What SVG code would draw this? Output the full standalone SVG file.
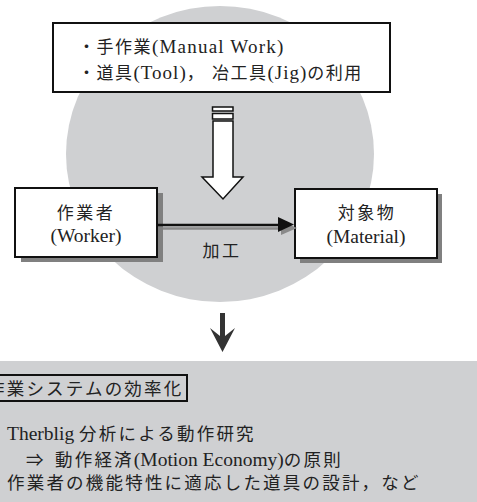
<svg xmlns="http://www.w3.org/2000/svg" width="477" height="502" viewBox="0 0 477 502">
<style>
.jp{font-family:"Noto Sans CJK JP","Noto Sans",sans-serif;fill:#222;}
.lt{font-family:"Liberation Serif","Times New Roman",Times,"DejaVu Serif","Noto Serif",serif;fill:#222;}
.box{fill:#fff;stroke:#111;stroke-width:2;}
.shadow{fill:#808080;}
.bg{fill:#cfd0d2;}
</style>
<rect width="477" height="502" fill="#fff"/>
<ellipse class="bg" cx="220" cy="154" rx="154" ry="148"/>
<rect class="bg" x="0" y="361" width="477" height="141"/>

<g id="tools">
<rect class="box" x="53" y="23" width="337" height="69"/>
<text y="53" font-size="17"><tspan class="jp" x="78" letter-spacing="1.5">・手作業</tspan><tspan class="lt" font-size="19" letter-spacing="1.2">(Manual Work)</tspan></text>
<text y="79" font-size="17"><tspan class="jp" x="78" letter-spacing="1.5">・道具</tspan><tspan class="lt" font-size="19" letter-spacing="1">(Tool)</tspan><tspan class="jp" letter-spacing="1.5">，</tspan><tspan class="jp" x="212" letter-spacing="1.5">冶工具</tspan><tspan class="lt" font-size="19" letter-spacing="1">(Jig)</tspan><tspan class="jp" letter-spacing="1.5">の利用</tspan></text>
</g>

<g id="worker">
<rect class="shadow" x="21" y="193" width="142" height="69"/>
<rect class="box" x="15" y="188" width="142" height="69"/>
<text class="jp" x="86" y="219" font-size="17" letter-spacing="2.5" text-anchor="middle">作業者</text>
<text class="lt" x="86" y="242" font-size="19.5" text-anchor="middle">(Worker)</text>
</g>

<g id="material">
<rect class="shadow" x="300" y="194" width="142" height="69"/>
<rect class="box" x="295" y="189" width="142" height="69"/>
<text class="jp" x="367" y="219" font-size="17" letter-spacing="2.5" text-anchor="middle">対象物</text>
<text class="lt" x="366" y="243" font-size="19.5" text-anchor="middle">(Material)</text>
</g>

<g id="connectors">
<g id="hollow-arrow" fill="#fff" stroke="#111" stroke-width="1.5">
<rect x="212.5" y="107" width="20.5" height="4"/>
<rect x="212.5" y="113.5" width="20.5" height="5.5"/>
<polygon points="213,121 233,121 233,177 243,177 223,199 202,177 213,177"/>
</g>
<g id="process-arrow">
<line x1="163" y1="228.5" x2="284" y2="228.5" stroke="#8a8a8a" stroke-width="2.5"/>
<polygon points="281,221 297,228 281,235" fill="#8a8a8a"/>
<line x1="157" y1="225" x2="281" y2="225" stroke="#111" stroke-width="2.5"/>
<polygon points="278,217 294,224.5 278,232" fill="#111"/>
</g>
<path id="down-arrow" d="M220,313 H225 V336 L235,328 L222.5,352 L210,328 L220,336 Z" fill="#333"/>
</g>
<text class="jp" x="222" y="257" font-size="17" letter-spacing="2.5" text-anchor="middle">加工</text>

<g id="efficiency">
<rect x="-20" y="375" width="207" height="26" fill="none" stroke="#111" stroke-width="2"/>
<text class="jp" x="-13" y="395" font-size="17.5" letter-spacing="2.2">作業システムの効率化</text>
<text y="440" font-size="17.5"><tspan class="lt" x="7" font-size="19.5">Therblig </tspan><tspan class="jp" letter-spacing="2.2">分析による動作研究</tspan></text>
<text y="466" font-size="17.5"><tspan class="jp" x="26">⇒</tspan><tspan class="jp" x="55" letter-spacing="2.2">動作経済</tspan><tspan class="lt" font-size="19.5">(Motion Economy)</tspan><tspan class="jp" letter-spacing="2.2">の原則</tspan></text>
<text class="jp" x="7" y="489" font-size="17.5" letter-spacing="2.2">作業者の機能特性に適応した道具の設計，など</text>
</g>
</svg>
